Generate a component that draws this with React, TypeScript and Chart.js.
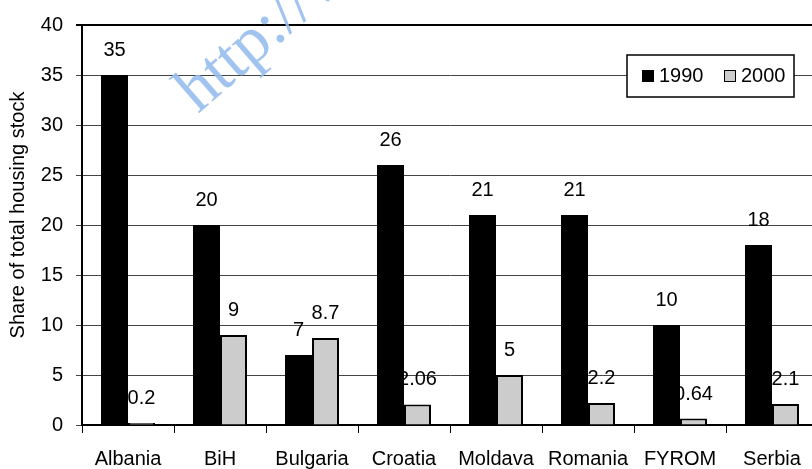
import React, { useEffect, useRef } from 'react';
import { Chart, registerables } from 'chart.js';

Chart.register(...registerables);

const categories = ['Albania', 'BiH', 'Bulgaria', 'Croatia', 'Moldava', 'Romania', 'FYROM', 'Serbia'];
const values1990 = [35, 20, 7, 26, 21, 21, 10, 18];
const values2000 = [0.2, 9, 8.7, 2.06, 5, 2.2, 0.64, 2.1];
const seriesNames = ['1990', '2000'];
const yAxisTitle = 'Share of total housing stock';
const watermarkText = 'http://www';

const FONT = "'Liberation Sans', Arial, Helvetica, sans-serif";
const BLACK = '#000000';
const GRAY = '#cccccc';

export default function App() {
  const ref = useRef<HTMLCanvasElement>(null);

  useEffect(() => {
    const canvas = ref.current!;

    const barLabels = {
      id: 'barLabels',
      afterDatasetsDraw(chart: any) {
        const ctx = chart.ctx;
        ctx.save();
        ctx.font = `20px ${FONT}`;
        ctx.fillStyle = BLACK;
        ctx.textAlign = 'center';
        ctx.textBaseline = 'alphabetic';
        chart.data.datasets.forEach((ds: any, i: number) => {
          const meta = chart.getDatasetMeta(i);
          meta.data.forEach((bar: any, j: number) => {
            ctx.fillText(String(ds.data[j]), bar.x, bar.y - 19);
          });
        });
        ctx.restore();
      },
    };

    const extras = {
      id: 'extras',
      afterDraw(chart: any) {
        const ctx = chart.ctx;
        const area = chart.chartArea;
        // y-axis title
        ctx.save();
        ctx.font = `20px ${FONT}`;
        ctx.fillStyle = BLACK;
        ctx.textAlign = 'center';
        ctx.textBaseline = 'alphabetic';
        ctx.translate(24, (area.top + area.bottom) / 2 - 10);
        ctx.rotate(-Math.PI / 2);
        ctx.fillText(yAxisTitle, 0, 0);
        ctx.restore();

        // legend box
        const boxRight = area.right - 24;
        const boxLeft = boxRight - 167;
        const boxTop = area.top + 30;
        const boxH = 42;
        ctx.save();
        ctx.fillStyle = '#ffffff';
        ctx.fillRect(boxLeft, boxTop, boxRight - boxLeft, boxH);
        ctx.strokeStyle = BLACK;
        ctx.lineWidth = 1.5;
        ctx.strokeRect(boxLeft, boxTop, boxRight - boxLeft, boxH);
        const midY = boxTop + boxH / 2;
        const colors = [BLACK, GRAY];
        const starts = [boxLeft + 15, boxLeft + 97];
        ctx.font = `20px ${FONT}`;
        ctx.textBaseline = 'middle';
        ctx.textAlign = 'left';
        seriesNames.forEach((name, i) => {
          const x = starts[i];
          ctx.fillStyle = colors[i];
          ctx.fillRect(x, midY - 6, 12, 12);
          ctx.strokeStyle = BLACK;
          ctx.lineWidth = 1;
          ctx.strokeRect(x + 0.5, midY - 5.5, 11, 11);
          ctx.fillStyle = BLACK;
          ctx.fillText(name, x + 17, midY);
        });
        ctx.restore();

        // watermark
        ctx.save();
        ctx.font = `66px 'Liberation Serif', 'DejaVu Serif', serif`;
        ctx.fillStyle = 'rgba(150, 188, 238, 0.9)';
        ctx.translate(198, 114);
        ctx.rotate(-41 * Math.PI / 180);
        ctx.textAlign = 'left';
        ctx.textBaseline = 'alphabetic';
        ctx.fillText(watermarkText, 0, 0);
        ctx.restore();
      },
    };

    const chart = new Chart(canvas, {
      type: 'bar',
      data: {
        labels: categories,
        datasets: [
          {
            label: seriesNames[0],
            data: values1990,
            backgroundColor: BLACK,
            borderColor: BLACK,
            borderWidth: 0,
            categoryPercentage: 0.587,
            barPercentage: 1,
          },
          {
            label: seriesNames[1],
            data: values2000,
            backgroundColor: GRAY,
            borderColor: BLACK,
            borderWidth: 2,
            categoryPercentage: 0.587,
            barPercentage: 1,
          },
        ],
      },
      options: {
        responsive: false,
        devicePixelRatio: 1,
        animation: false,
        layout: { padding: { top: 23, right: 22, left: 0, bottom: 0 } },
        plugins: {
          legend: { display: false },
          tooltip: { enabled: false },
        },
        scales: {
          x: {
            grid: {
              offset: true,
              drawOnChartArea: false,
              drawTicks: true,
              tickLength: 8,
              color: BLACK,
              lineWidth: 1,
            },
            border: { color: BLACK, width: 2 },
            ticks: {
              font: { size: 20, family: FONT },
              color: BLACK,
              padding: 14,
              autoSkip: false,
              maxRotation: 0,
            },
            afterFit: (s: any) => {
              s.height = 44;
            },
          },
          y: {
            min: 0,
            max: 40,
            ticks: {
              stepSize: 5,
              font: { size: 20, family: FONT },
              color: BLACK,
              padding: 13,
            },
            grid: {
              color: (c: any) => (c.tick && c.tick.value === 40 ? BLACK : '#444444'),
              lineWidth: (c: any) => (c.tick && c.tick.value === 40 ? 2 : 1),
              tickLength: 6,
              drawTicks: true,
            },
            border: { color: BLACK, width: 2 },
            afterFit: (s: any) => {
              s.width = 82;
            },
          },
        },
      },
      plugins: [barLabels, extras],
    });

    return () => chart.destroy();
  }, []);

  return (
    <div
      style={{
        position: 'absolute',
        left: 0,
        top: 0,
        width: 812,
        height: 469,
        overflow: 'hidden',
        background: '#ffffff',
      }}
    >
      <canvas ref={ref} width={840} height={469} style={{ display: 'block', width: 840, height: 469 }} />
    </div>
  );
}
